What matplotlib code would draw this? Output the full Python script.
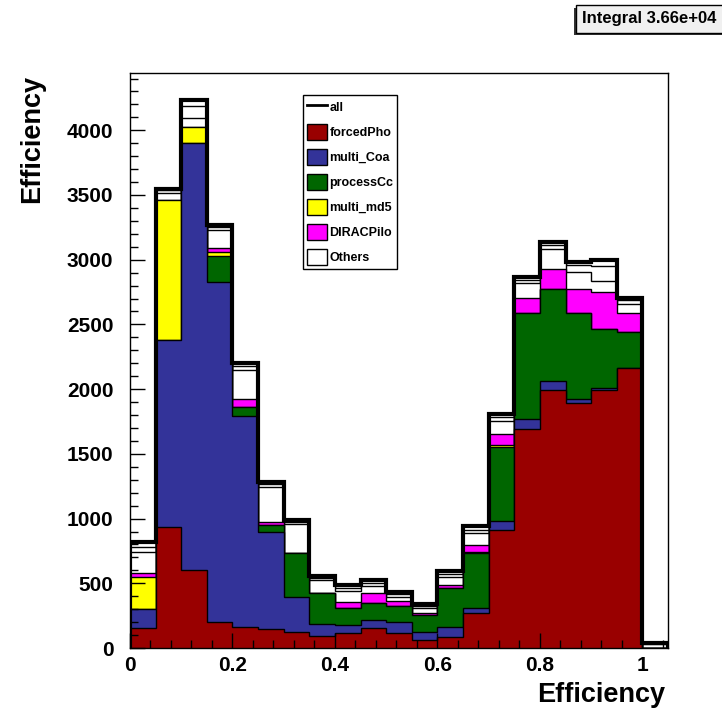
import matplotlib
matplotlib.use("Agg")
import matplotlib.pyplot as plt
import numpy as np
from matplotlib.lines import Line2D
from matplotlib.patches import Patch, Rectangle
from matplotlib.ticker import MultipleLocator, FuncFormatter

plt.rcParams["font.family"] = ["Liberation Sans", "DejaVu Sans"]
plt.rcParams["font.weight"] = "bold"

# histogram binning (21 bins of 0.05 from 0 to 1.05)
bin_lo = 0.0
bin_hi = 1.05
n_bins = 21

# per-bin contents of each stacked component
forced_pho = [155, 936, 603, 201, 162, 147, 124, 93, 116, 155, 116, 62, 85, 270, 913, 1694, 1996, 1895, 1996, 2166, 0]
multi_coa = [147, 1446, 3295, 2630, 1633, 750, 271, 93, 59, 62, 85, 62, 77, 39, 69, 77, 69, 31, 15, 0, 0]
process_cc = [0, 0, 0, 201, 69, 54, 340, 239, 135, 131, 124, 131, 302, 426, 573, 820, 712, 665, 456, 278, 0]
multi_md5 = [247, 1083, 124, 31, 0, 0, 0, 0, 0, 0, 0, 0, 0, 8, 15, 0, 0, 0, 0, 0, 0]
dirac_pilo = [30, 0, 0, 31, 62, 24, 0, 0, 46, 77, 39, 15, 23, 54, 85, 116, 154, 186, 287, 147, 0]
# "Others" is itself a stack of several small white histograms
others_a = [160, 50, 70, 139, 224, 270, 225, 101, 85, 55, 30, 40, 60, 90, 100, 110, 150, 130, 80, 70, 30]
others_b = [40, 20, 93, 20, 30, 20, 15, 16, 23, 23, 20, 15, 25, 27, 28, 28, 30, 50, 120, 25, 5]
others_c = [37, 15, 46, 19, 24, 19, 15, 15, 23, 23, 19, 15, 24, 30, 27, 25, 29, 29, 47, 21, 5]

labels = ["forcedPho", "multi_Coa", "processCc", "multi_md5", "DIRACPilo", "Others"]
colors = ["#990000", "#333399", "#006600", "#ffff00", "#ff00ff", "#ffffff"]

stat_text = "Integral 3.66e+04"

W, H = 722, 711


def fx(px):
    return px / W


def fy(py):
    return (H - py) / H


edges = np.linspace(bin_lo, bin_hi, n_bins + 1)
layers = [forced_pho, multi_coa, process_cc, multi_md5, dirac_pilo, others_a, others_b, others_c]
layer_colors = colors[:5] + ["#ffffff"] * 3
cum = np.cumsum(np.array(layers, dtype=float), axis=0)
total = cum[-1]

fig = plt.figure(figsize=(W / 100, H / 100), dpi=100)
ax = fig.add_axes([fx(130), fy(648), fx(668) - fx(130), fy(73) - fy(648)])

# ROOT-style stack: draw cumulative histograms from the top down
for i in range(len(layers) - 1, -1, -1):
    ax.stairs(cum[i], edges, baseline=0, fill=True, facecolor=layer_colors[i],
              edgecolor="black", linewidth=1.0)
ax.stairs(total, edges, baseline=0, fill=False, color="black", linewidth=3.0)

ax.set_xlim(bin_lo, bin_hi)
ax.set_ylim(0, total.max() * 1.05)

ax.xaxis.set_major_locator(MultipleLocator(0.2))
ax.xaxis.set_minor_locator(MultipleLocator(0.04))
ax.yaxis.set_major_locator(MultipleLocator(500))
ax.yaxis.set_minor_locator(MultipleLocator(100))
ax.xaxis.set_major_formatter(FuncFormatter(lambda v, p: f"{v:g}"))
ax.tick_params(axis="both", which="both", direction="in", top=False, right=False, width=1)
ax.tick_params(axis="both", which="major", length=11, labelsize=15)
ax.tick_params(axis="both", which="minor", length=6)
ax.tick_params(axis="y", pad=12)
ax.tick_params(axis="x", pad=6)
for lab in ax.get_xticklabels() + ax.get_yticklabels():
    lab.set_fontweight("bold")
for sp in ax.spines.values():
    sp.set_linewidth(1)
    sp.set_zorder(5)

fig.text(fx(665), fy(695), "Efficiency", ha="right", va="center", fontsize=19.5, fontweight="bold")
fig.text(fx(32), fy(75), "Efficiency", ha="center", va="top", rotation=90, fontsize=19.5, fontweight="bold")

handles = [Line2D([], [], color="black", linewidth=2)]
handles += [Patch(facecolor=c, edgecolor="black", linewidth=1) for c in colors]
ax.legend(handles, ["all"] + labels, loc="upper left", bbox_to_anchor=(fx(303), fy(95)),
          bbox_transform=fig.transFigure, frameon=True, fancybox=False, framealpha=1,
          edgecolor="black", borderaxespad=0, borderpad=0.3, handlelength=1.6,
          handleheight=1.6, handletextpad=0.2, labelspacing=0.72,
          prop={"weight": "bold", "size": 9})

# stats box with shadow
fig.patches.append(Rectangle((fx(574), fy(35)), fx(W) - fx(574), fy(8) - fy(35),
                             transform=fig.transFigure, facecolor="#333333", edgecolor="none"))
fig.patches.append(Rectangle((fx(576), fy(33)), fx(W + 5) - fx(576), fy(5) - fy(33),
                             transform=fig.transFigure, facecolor="#f0f0f0", edgecolor="black",
                             linewidth=1))
fig.text(fx(582), fy(19), stat_text, ha="left", va="center", fontsize=12, fontweight="bold")

fig.savefig("out.png", dpi=100)
